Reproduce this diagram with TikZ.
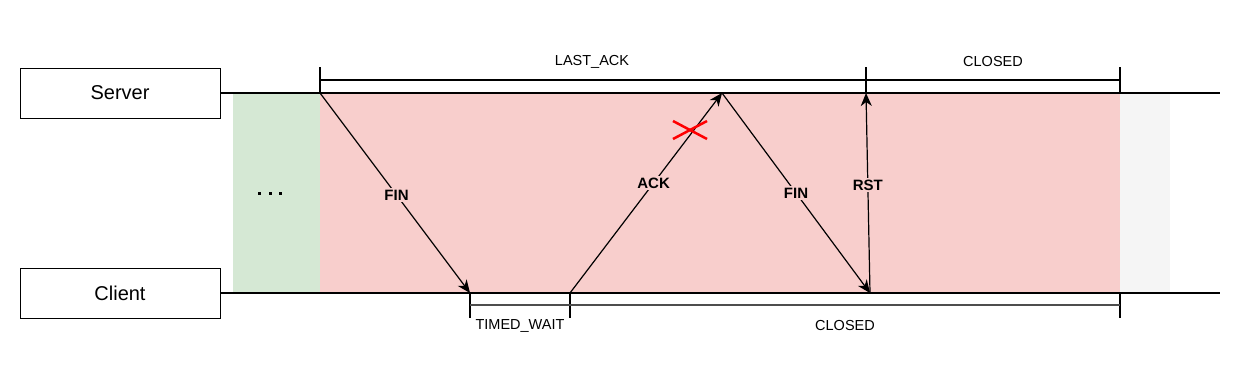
\documentclass[tikz,border=0pt]{standalone}
\usepackage{fontspec}
\setmainfont{Liberation Sans}
\usetikzlibrary{arrows.meta}
\definecolor{greenc}{HTML}{D5E8D4}
\definecolor{pinkc}{HTML}{F8CECC}
\definecolor{grayc}{HTML}{F5F5F5}
\definecolor{darkg}{HTML}{4D4D4D}
\tikzset{
  actor/.style={draw=black, line width=1pt, minimum width=200pt, minimum height=50pt, inner sep=0pt, font=\fontsize{20}{24}\selectfont},
  timeline/.style={line width=1.3pt, draw=black},
  msg/.style={line width=1.2pt, -{Stealth[length=13pt,width=11pt,inset=4pt]}},
  msglabel/.style={fill=pinkc, inner sep=1.5pt, font=\bfseries\fontsize{15}{18}\selectfont},
  state/.style={font=\fontsize{14.5}{17}\selectfont, inner sep=0pt},
  tick/.style={line width=1.3pt},
  dot/.style={fill=black, minimum size=3pt, inner sep=0pt},
}
\begin{document}
\begin{tikzpicture}[x=1pt,y=-1pt]
\useasboundingbox (0,0) rectangle (1246,369);
% background regions
\fill[greenc] (233,93) rectangle (320,293);
\fill[pinkc] (320,93) rectangle (1120,293);
\fill[grayc] (1120,93) rectangle (1170,293);
\node[dot] (d1) at (259.5,193) {};
\node[dot] (d2) at (270,193) {};
\node[dot] (d3) at (280.5,193) {};
% actors
\node[actor] (server) at (120,93) {Server};
\node[actor] (client) at (120,293) {Client};
\coordinate (sEnd) at (1220,93);
\coordinate (cEnd) at (1220,293);
\draw[timeline] (server.east) -- (sEnd);
\draw[timeline] (client.east) -- (cEnd);
% message points
\coordinate (s1) at (320,93);
\coordinate (c1) at (470,293);
\coordinate (c2) at (570,293);
\coordinate (s2) at (722,93);
\coordinate (c3) at (870,293);
\coordinate (s3) at (866,93);
% top state intervals
\coordinate (t1) at (320,80);
\coordinate (t2) at (866,80);
\coordinate (t3) at (1120,80);
\draw[tick] (320,67) -- (s1);
\draw[tick] (866,67) -- (866,93);
\draw[tick] (1120,67) -- (1120,93);
\draw[line width=1.1pt] (t1) -- (t2) -- (t3);
\node[state] (lastack) at (592,62) {LAST\_ACK};
\node[state] (closedS) at (993,62) {CLOSED};
% bottom state intervals
\coordinate (b1) at (470,305);
\coordinate (b2) at (570,305);
\coordinate (b3) at (1120,305);
\draw[tick] (c1) -- (470,318);
\draw[tick] (c2) -- (570,318);
\draw[tick] (1120,293) -- (1120,318);
\draw[line width=1.4pt, darkg] (b1) -- (b2) -- (b3);
\node[state] (timedwait) at (520,326) {TIMED\_WAIT};
\node[state] (closedC) at (845,326) {CLOSED};
% messages
\draw[msg] (s1) -- node[msglabel, pos=0.51] {FIN} (c1);
\draw[msg] (c2) -- node[msglabel, pos=0.55] {ACK} (s2);
\draw[msg] (s2) -- node[msglabel, pos=0.5] {FIN} (c3);
\draw[msg] (c3) -- node[msglabel, pos=0.54] {RST} (s3);
% lost marker
\draw[red, line width=2.5pt] (673,121) -- (707,139);
\draw[red, line width=2.5pt] (673,139) -- (707,121);
\end{tikzpicture}
\end{document}
